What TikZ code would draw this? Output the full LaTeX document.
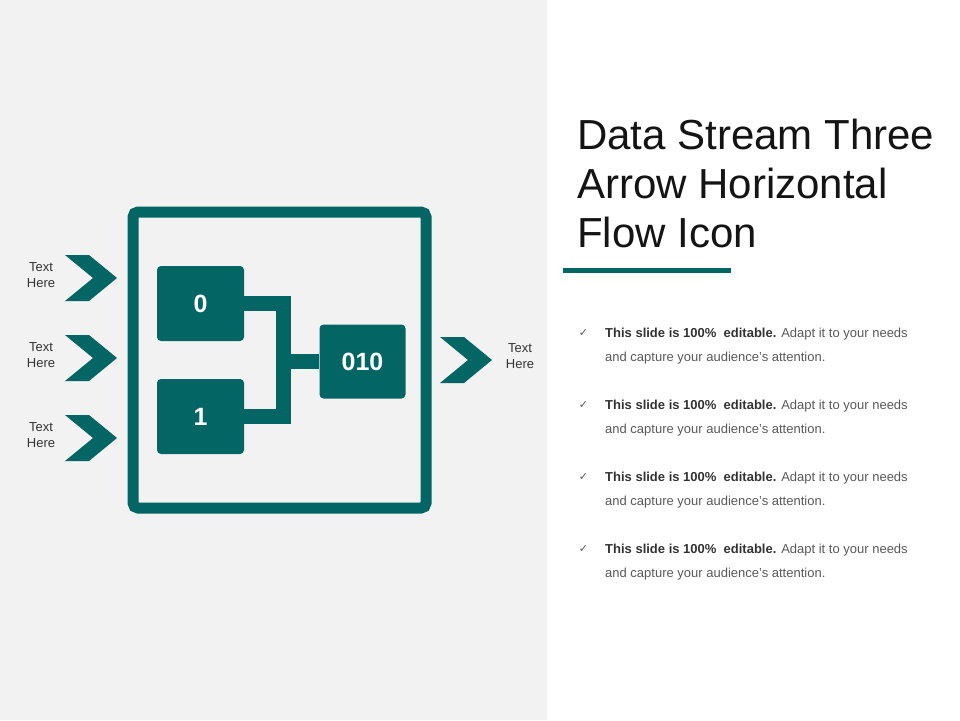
\documentclass[tikz,border=0pt]{standalone}
\usepackage{fontspec}
\setmainfont{Liberation Sans}
\newfontfamily\symfont{DejaVu Sans}
\definecolor{teal1}{RGB}{3,102,100}
\definecolor{panel}{RGB}{242,242,242}
\definecolor{txtdark}{RGB}{51,51,51}
\definecolor{txtgray}{RGB}{89,89,89}
\definecolor{titlec}{RGB}{20,20,20}
\begin{document}
\begin{tikzpicture}[x=1pt,y=-1pt,
  bitbox/.style={fill=teal1, rounded corners=4, inner sep=0pt, text=white,
    font=\fontsize{25}{30}\selectfont\bfseries},
  wire/.style={draw=teal1, line width=15, line join=miter},
  chevshape/.style={fill=teal1},
  lbl/.style={align=center, inner sep=0pt, anchor=north, text=txtdark,
    font=\fontsize{13}{16}\selectfont},
  bullettext/.style={align=left, inner sep=0pt, anchor=north west, text=txtgray,
    font=\fontsize{13}{24}\selectfont},
  tick/.style={inner sep=0pt, text=txtgray, font=\symfont\fontsize{11}{12}\selectfont}
]
\useasboundingbox (0,0) rectangle (960,720);
\fill[white] (0,0) rectangle (960,720);
\fill[panel] (0,0) rectangle (547,720);

% frame
\node[draw=teal1, line width=11, rounded corners=5, minimum width=293,
  minimum height=296, inner sep=0pt] (frame) at (279.5,360) {};

% bit boxes
\node[bitbox, minimum width=87, minimum height=75] (b0) at (200.5,303.5) {0};
\node[bitbox, minimum width=87, minimum height=75] (b1) at (200.5,416.5) {1};
\node[bitbox, minimum width=86, minimum height=74] (b010) at (362.5,361.5) {010};
\coordinate (j) at (283.5,361.5);
\draw[wire] (b0.east) -| (j) |- (b1.east);
\draw[wire] (j) -- (b010.west);

% chevrons
\newcommand\chevron[2]{%
  \fill[chevshape] (#1,#2-23) -- (#1+24,#2-23) -- (#1+52,#2) -- (#1+24,#2+23)
    -- (#1,#2+23) -- (#1+28,#2) -- cycle;}
\chevron{65}{278}
\chevron{65}{358}
\chevron{65}{438}
\chevron{440}{360}

% labels
\node[lbl] (t1) at (41,262.5) {Text\\Here};
\node[lbl] (t2) at (41,342.5) {Text\\Here};
\node[lbl] (t3) at (41,422.5) {Text\\Here};
\node[lbl] (t4) at (520,343) {Text\\Here};

% title
\node[anchor=north west, inner sep=0pt, align=left, text=titlec,
  font=\fontsize{42}{49}\selectfont] (title) at (577,119)
  {Data Stream Three\\Arrow Horizontal\\Flow Icon};
\draw[teal1, line width=5] (563,270.5) -- (731,270.5);

% bullets
\foreach \yy/\nm in {333/p1,405/p2,477/p3,549/p4}{
  \node[tick] (c\nm) at (583.5,\yy) {✓};
  \node[bullettext] (\nm) at (605,\yy-5)
    {{\color{txtdark}\bfseries This slide is 100\%\ \ editable.} Adapt it to your needs\\
     and capture your audience's attention.};
}
\end{tikzpicture}
\end{document}
